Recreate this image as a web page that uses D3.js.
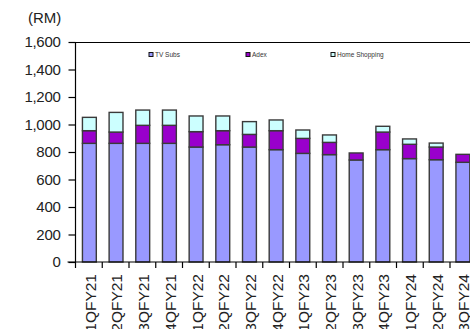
<!DOCTYPE html>
<html><head><meta charset="utf-8">
<script src="https://cdn.jsdelivr.net/npm/d3@7"></script>
<style>body{margin:0;background:#fff}svg{display:block}</style>
</head><body>
<script>
const categories = ["1QFY21","2QFY21","3QFY21","4QFY21","1QFY22","2QFY22","3QFY22","4QFY22","1QFY23","2QFY23","3QFY23","4QFY23","1QFY24","2QFY24","3QFY24"];
const tvSubs = [863,863,863,863,836,853,836,817,790,781,742,817,752,744,725];
const adex = [92,82,131,131,112,102,92,138,109,89,51,128,104,92,58];
const homeShopping = [97,143,111,111,114,107,93,78,61,54,0,42,39,29,0];
const seriesNames = ["TV Subs","Adex","Home Shopping"];
const colors = ["#9999FF","#9900CC","#CCFFFF"];
const yTicks = [0,200,400,600,800,1000,1200,1400,1600];

const W = 470, H = 329;
const svg = d3.select("body").append("svg").attr("width", W).attr("height", H);
const mLeft = 75.5, mTop = 42, mBottom = 262;
const step = 26.75;
const x = d3.scaleBand().domain(categories).range([mLeft, mLeft + step*categories.length]).paddingInner(0.48).paddingOuter(0.26);
const y = d3.scaleLinear().domain([0,1600]).range([mBottom, mTop]);
const FONT = "Liberation Sans, Arial, sans-serif";

const rows = categories.map((c,i)=>({cat:c, "TV Subs":tvSubs[i], "Adex":adex[i], "Home Shopping":homeShopping[i]}));
const stacked = d3.stack().keys(seriesNames)(rows);

// top frame line
svg.append("line").attr("x1", mLeft).attr("x2", W).attr("y1", mTop+0.5).attr("y2", mTop+0.5).attr("stroke","#000").attr("stroke-width",1.2);

stacked.forEach((s,si)=>{
  svg.append("g").selectAll("rect").data(s.filter(d=>d[1]-d[0]>0)).join("rect")
    .attr("x", d=>x(d.data.cat))
    .attr("width", x.bandwidth())
    .attr("y", d=>y(d[1]))
    .attr("height", d=>y(d[0])-y(d[1]))
    .attr("fill", colors[si])
    .attr("stroke","#3a3a3a").attr("stroke-width",1.4);
});

// y axis
const yAxis = d3.axisLeft(y).tickValues(yTicks).tickFormat(d3.format(",")).tickSize(7).tickPadding(8);
const gy = svg.append("g").attr("transform",`translate(${mLeft},0)`).call(yAxis);
gy.select(".domain").attr("d", `M0,${mTop}V${mBottom}`).attr("stroke","#000").attr("stroke-width",1.2);
gy.selectAll(".tick line").attr("stroke","#000").attr("stroke-width",1.2);
gy.selectAll("text").attr("font-family",FONT).attr("font-size",15).attr("fill","#222").attr("letter-spacing","-0.3px");

// x axis
const boundaries = d3.range(categories.length+1).map(i=>mLeft + i*step);
const gx = svg.append("g");
gx.append("line").attr("x1", mLeft-8).attr("x2", W).attr("y1", mBottom).attr("y2", mBottom).attr("stroke","#000").attr("stroke-width",1.2);
gx.selectAll("line.t").data(boundaries).join("line").attr("class","t")
  .attr("x1", d=>d).attr("x2", d=>d).attr("y1", mBottom).attr("y2", mBottom+6).attr("stroke","#000").attr("stroke-width",1.2);
gx.selectAll("text").data(categories).join("text")
  .attr("transform", d=>`translate(${x(d)+x.bandwidth()/2+1},${mBottom+12}) rotate(-90)`)
  .attr("text-anchor","end").attr("dy","0.35em")
  .attr("font-family",FONT).attr("font-size",15.5).attr("fill","#222")
  .text(d=>d);

// unit label
svg.append("text").attr("x", 28).attr("y", 23).attr("font-family",FONT).attr("font-size",15).attr("fill","#222").text("(RM)");

// legend
const legX = [149, 246, 331];
const lg = svg.append("g");
seriesNames.forEach((n,i)=>{
  lg.append("rect").attr("x", legX[i]).attr("y", 52.5).attr("width",4).attr("height",4).attr("fill",colors[i]).attr("stroke","#111").attr("stroke-width",1);
  lg.append("text").attr("x", legX[i]+6).attr("y", 57).attr("font-family",FONT).attr("font-size",6.5).attr("fill","#333").text(n);
});
</script>
</body></html>
